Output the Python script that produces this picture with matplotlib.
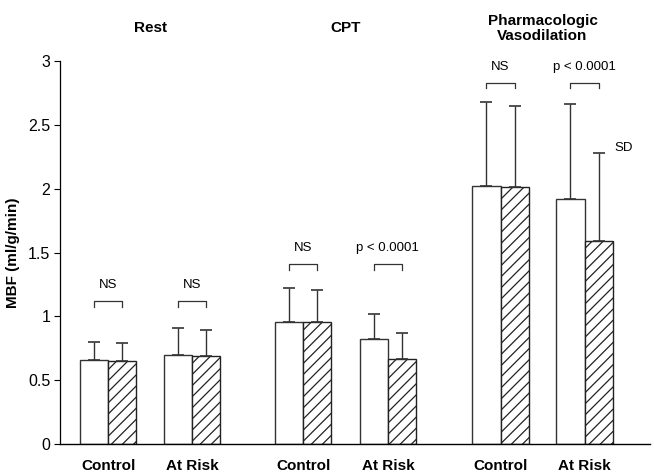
import matplotlib
matplotlib.use("Agg")
import matplotlib.pyplot as plt
import numpy as np

plt.rcParams['font.family'] = ['Liberation Sans', 'DejaVu Sans']
plt.rcParams['hatch.linewidth'] = 0.9

groups = ["Rest", "CPT", "Pharmacologic\nVasodilation"]
categories = ["Control", "At Risk", "Control", "At Risk", "Control", "At Risk"]
open_means = [0.66, 0.70, 0.96, 0.82, 2.02, 1.92]
open_sd = [0.14, 0.21, 0.26, 0.20, 0.66, 0.74]
hatched_means = [0.65, 0.69, 0.96, 0.67, 2.01, 1.59]
hatched_sd = [0.14, 0.20, 0.25, 0.20, 0.64, 0.69]
sig_labels = ["NS", "NS", "NS", "p < 0.0001", "NS", "p < 0.0001"]
bracket_levels = [1.12, 1.12, 1.41, 1.41, 2.83, 2.83]

positions = np.array([0.0, 1.0, 2.32, 3.33, 4.67, 5.67])
width = 0.335

fig = plt.figure(figsize=(6.54, 4.73), dpi=100)
ax = fig.add_axes([0.092, 0.061, 0.902, 0.810])

ax.bar(positions - width / 2, open_means, width, color="white", edgecolor="#333333", linewidth=1.0)
ax.bar(positions + width / 2, hatched_means, width, color="white", edgecolor="#222222",
       hatch="///", linewidth=1.0)
ax.errorbar(positions - width / 2, open_means, yerr=[np.zeros(6), open_sd], fmt="none",
            ecolor="#333333", elinewidth=1.0, capsize=4, capthick=1.2)
ax.errorbar(positions + width / 2, hatched_means, yerr=[np.zeros(6), hatched_sd], fmt="none",
            ecolor="#333333", elinewidth=1.0, capsize=4, capthick=1.2)

tick_h = 0.045
for x, lvl, lab in zip(positions, bracket_levels, sig_labels):
    x0, x1 = x - width / 2, x + width / 2
    ax.plot([x0, x0, x1, x1], [lvl - tick_h, lvl, lvl, lvl - tick_h], color="#333333", lw=0.9)
    ax.text(x, lvl + 0.08, lab, ha="center", va="bottom", fontsize=9.5)

ax.text(6.13, 2.32, "SD", ha="center", va="center", fontsize=9.5)

ax.set_xlim(-0.571, 6.45)
ax.set_ylim(0, 3)
ax.set_yticks([0, 0.5, 1, 1.5, 2, 2.5, 3])
ax.set_yticklabels(["0", "0.5", "1", "1.5", "2", "2.5", "3"], fontsize=11.5)
ax.tick_params(axis="y", length=4, width=0.8, pad=3)
ax.set_xticks(positions)
ax.set_xticklabels(categories, fontsize=11, fontweight="bold")
ax.tick_params(axis="x", length=0, pad=11)
ax.spines["top"].set_visible(False)
ax.spines["right"].set_visible(False)
ax.spines["left"].set_linewidth(0.9)
ax.spines["bottom"].set_linewidth(1.0)
ax.set_ylabel("MBF (ml/g/min)", fontsize=11, fontweight="bold", labelpad=6)

group_centers = [(positions[0] + positions[1]) / 2, (positions[2] + positions[3]) / 2,
                 (positions[4] + positions[5]) / 2]
for gx, g in zip(group_centers, groups):
    ax.text(gx, 3.255, g, ha="center", va="center", fontsize=11, fontweight="bold",
            linespacing=1.15, clip_on=False)

fig.savefig("out.png", dpi=100)
